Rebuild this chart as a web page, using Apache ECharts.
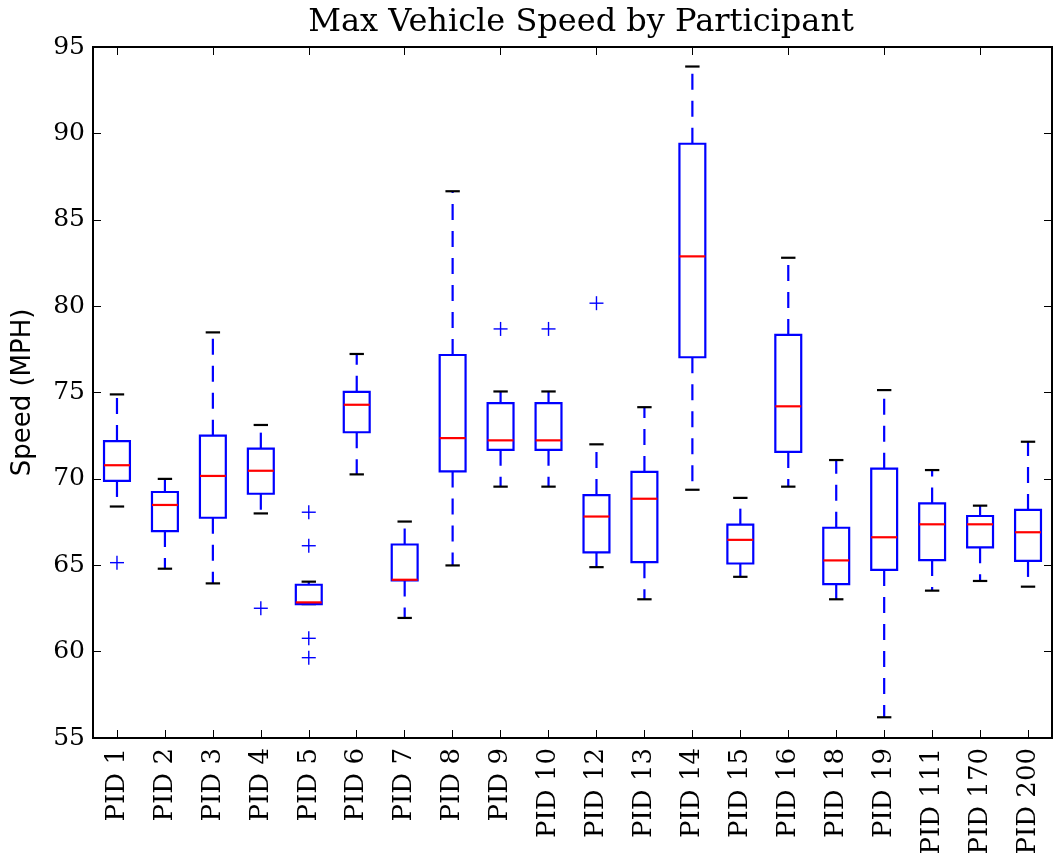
<!DOCTYPE html>
<html>
<head>
<meta charset="utf-8">
<script src="https://cdn.jsdelivr.net/npm/echarts@6/dist/echarts.min.js"></script>
<style>
html,body{margin:0;padding:0;background:#fff;}
#chart{width:1055px;height:861px;}
</style>
</head>
<body>
<div id="chart"></div>
<script>
const categories = ['PID 1','PID 2','PID 3','PID 4','PID 5','PID 6','PID 7','PID 8','PID 9','PID 10',
  'PID 12','PID 13','PID 14','PID 15','PID 16','PID 18','PID 19','PID 111','PID 170','PID 200'];
const whiskerLow  = [68.4, 64.8, 63.95, 68.0, 62.75, 70.26, 61.95, 64.99, 69.55, 69.55, 64.89, 63.03, 69.37, 64.33, 69.55, 63.03, 56.2, 63.53, 64.09, 63.76];
const q1          = [69.88, 66.98, 67.75, 69.14, 62.75, 72.7, 64.12, 70.43, 71.68, 71.68, 65.75, 65.18, 77.04, 65.1, 71.56, 63.91, 64.73, 65.3, 66.04, 65.25];
const median      = [70.79, 68.49, 70.17, 70.47, 62.85, 74.29, 64.16, 72.36, 72.23, 72.23, 67.82, 68.85, 82.88, 66.47, 74.2, 65.28, 66.62, 67.37, 67.37, 66.91];
const q3          = [72.19, 69.24, 72.5, 71.75, 63.87, 75.04, 66.2, 77.17, 74.38, 74.38, 69.06, 70.4, 89.4, 67.35, 78.33, 67.17, 70.59, 68.58, 67.85, 68.2];
const whiskerHigh = [74.89, 70.0, 78.48, 73.12, 64.05, 77.23, 67.53, 86.65, 75.06, 75.06, 72.0, 74.15, 93.87, 68.9, 82.8, 71.09, 75.14, 70.51, 68.45, 72.15];
const outlierPid   = ['PID 1','PID 4','PID 5','PID 5','PID 5','PID 5','PID 9','PID 10','PID 12'];
const outlierSpeed = [65.15, 62.51, 68.07, 66.13, 60.77, 59.65, 78.68, 78.68, 80.17];
const yTicks = [55, 60, 65, 70, 75, 80, 85, 90, 95];

const boxData = categories.map((c, i) => [i, whiskerLow[i], q1[i], median[i], q3[i], whiskerHigh[i]]);
const outData = outlierPid.map((p, i) => [categories.indexOf(p), outlierSpeed[i]]);

const BLUE = '#0000ff', RED = '#ff0000', BLACK = '#000000';

function renderBox(params, api) {
  const idx = api.value(0);
  const bw = api.size([1, 0])[0];
  const x = api.coord([idx, api.value(3)])[0];
  const yL = api.coord([idx, api.value(1)])[1];
  const y1 = api.coord([idx, api.value(2)])[1];
  const yM = api.coord([idx, api.value(3)])[1];
  const y3 = api.coord([idx, api.value(4)])[1];
  const yH = api.coord([idx, api.value(5)])[1];
  const hb = bw * 0.27;
  const hc = bw * 0.15;
  const dash = [16, 11];
  return {
    type: 'group',
    children: [
      {type: 'line', shape: {x1: x, y1: y3, x2: x, y2: yH}, style: {stroke: BLUE, lineWidth: 2.2, lineDash: dash, fill: null}},
      {type: 'line', shape: {x1: x, y1: y1, x2: x, y2: yL}, style: {stroke: BLUE, lineWidth: 2.2, lineDash: dash, fill: null}},
      {type: 'line', shape: {x1: x - hc, y1: yH, x2: x + hc, y2: yH}, style: {stroke: BLACK, lineWidth: 2.2}},
      {type: 'line', shape: {x1: x - hc, y1: yL, x2: x + hc, y2: yL}, style: {stroke: BLACK, lineWidth: 2.2}},
      {type: 'rect', shape: {x: x - hb, y: y3, width: 2 * hb, height: y1 - y3}, style: {stroke: BLUE, lineWidth: 2.2, fill: null}},
      {type: 'line', shape: {x1: x - hb, y1: yM, x2: x + hb, y2: yM}, style: {stroke: RED, lineWidth: 2.2}}
    ]
  };
}

function renderPlus(params, api) {
  const p = api.coord([api.value(0), api.value(1)]);
  const s = 7;
  return {
    type: 'group',
    children: [
      {type: 'line', shape: {x1: p[0] - s, y1: p[1], x2: p[0] + s, y2: p[1]}, style: {stroke: BLUE, lineWidth: 1.4}},
      {type: 'line', shape: {x1: p[0], y1: p[1] - s, x2: p[0], y2: p[1] + s}, style: {stroke: BLUE, lineWidth: 1.4}}
    ]
  };
}

const chart = echarts.init(document.getElementById('chart'), null, {renderer: 'canvas'});
const serif = 'DejaVu Serif';
chart.setOption({
  backgroundColor: '#ffffff',
  animation: false,
  title: {
    text: 'Max Vehicle Speed by Participant',
    left: 576, top: 2, textAlign: 'center',
    textStyle: {fontFamily: serif, fontSize: 32, fontWeight: 'normal', color: '#000'}
  },
  grid: {left: 93, right: 3, top: 47, bottom: 123, show: true, borderColor: '#000', borderWidth: 2,
    backgroundColor: 'transparent', containLabel: false, outerBoundsMode: 'none'},
  xAxis: [
    {
      type: 'category', data: categories, position: 'bottom',
      axisLine: {show: true, lineStyle: {color: '#000', width: 2}},
      axisTick: {show: true, inside: true, alignWithLabel: true, length: 8, lineStyle: {color: '#000', width: 1}},
      axisLabel: {rotate: 90, margin: 10, fontFamily: serif, fontSize: 26, color: '#000', interval: 0},
      splitLine: {show: false}
    },
    {
      type: 'category', data: categories, position: 'top',
      axisLine: {show: true, lineStyle: {color: '#000', width: 2}},
      axisTick: {show: true, inside: true, alignWithLabel: true, length: 8, lineStyle: {color: '#000', width: 1}},
      axisLabel: {show: false},
      splitLine: {show: false}
    }
  ],
  yAxis: [
    {
      type: 'value', min: 55, max: 95, interval: 5, position: 'left',
      name: 'Speed (MPH)', nameLocation: 'middle', nameGap: 57, nameRotate: 90,
      nameTextStyle: {fontFamily: 'DejaVu Sans', fontSize: 26, color: '#000'},
      axisLine: {show: true, lineStyle: {color: '#000', width: 2}},
      axisTick: {show: true, inside: true, length: 8, lineStyle: {color: '#000', width: 1}},
      axisLabel: {margin: 8, fontFamily: serif, fontSize: 25, color: '#000',
        formatter: v => yTicks.includes(v) ? String(v) : ''},
      splitLine: {show: false}
    },
    {
      type: 'value', min: 55, max: 95, interval: 5, position: 'right',
      axisLine: {show: true, lineStyle: {color: '#000', width: 2}},
      axisTick: {show: true, inside: true, length: 8, lineStyle: {color: '#000', width: 1}},
      axisLabel: {show: false},
      splitLine: {show: false}
    }
  ],
  series: [
    {type: 'custom', xAxisIndex: 0, yAxisIndex: 0, renderItem: renderBox, data: boxData, encode: {x: 0, y: [1, 2, 3, 4, 5]}, clip: false},
    {type: 'custom', xAxisIndex: 0, yAxisIndex: 0, renderItem: renderPlus, data: outData, encode: {x: 0, y: 1}}
  ]
});
</script>
</body>
</html>
